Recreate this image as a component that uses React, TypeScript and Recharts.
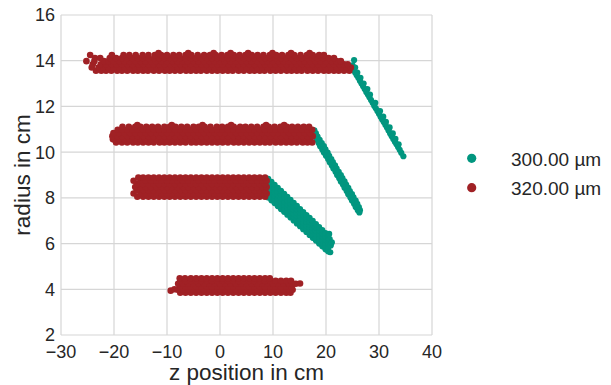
// App.tsx
import React from 'react';
import { ScatterChart, Scatter, XAxis, YAxis, CartesianGrid, Label } from 'recharts';

type Row = [number, number[]];
type Pt = [number, number];

const xTicks = [-30, -20, -10, 0, 10, 20, 30, 40];
const yTicks = [2, 4, 6, 8, 10, 12, 14, 16];
const seriesNames = ['300.00 µm', '320.00 µm'];
const seriesColors = ['#01967f', '#a02125'];

// 320 µm: rows of [radius, z positions]
const red14: Row[] = [
  [13.56, [-23.4, -22.4, -21.5, -20.5, -19.4, -18.5, -17.5, -16.4, -15.5, -14.5, -13.6, -12.5, -11.5, -10.4, -9.5, -8.5, -7.5, -6.4, -5.5, -4.5, -3.6, -2.5, -1.5, -0.5, 0.5, 1.5, 2.4, 3.5, 4.5, 5.6, 6.5, 7.5, 8.4, 9.5, 10.5, 11.5, 12.6, 13.5, 14.5, 15.4, 16.5, 17.5, 18.5, 19.6, 20.5, 21.5, 22.4, 23.4, 24.4]],
  [13.7, [-24.2, -22.9, -22.0, -21.0, -20.1, -19.0, -17.9, -17.0, -16.0, -15.1, -14.0, -13.0, -12.0, -11.1, -10.0, -9.0, -8.0, -7.1, -6.0, -5.0, -4.0, -3.1, -2.0, -1.0, 0.0, 1.0, 2.1, 3.0, 4.0, 5.0, 6.1, 7.0, 8.0, 9.0, 10.1, 11.0, 12.0, 13.0, 14.1, 15.0, 16.0, 17.0, 18.1, 19.0, 20.0, 21.0, 22.0, 23.0, 23.9, 24.7]],
  [13.84, [-24.0, -22.5, -21.5, -20.4, -19.5, -18.5, -17.5, -16.5, -15.4, -14.5, -13.5, -12.5, -11.5, -10.5, -9.4, -8.5, -7.5, -6.5, -5.5, -4.4, -3.5, -2.5, -1.5, -0.5, 0.5, 1.6, 2.5, 3.5, 4.5, 5.5, 6.5, 7.6, 8.5, 9.5, 10.5, 11.5, 12.5, 13.6, 14.5, 15.5, 16.5, 17.5, 18.5, 19.5, 20.6, 21.5, 22.5, 23.4, 24.1]],
  [13.98, [-25.2, -23.7, -21.9, -21.0, -20.0, -19.0, -18.0, -17.1, -16.0, -15.0, -14.0, -13.0, -12.1, -11.0, -10.0, -9.0, -8.0, -7.0, -6.1, -5.0, -4.0, -3.0, -2.0, -1.0, 0.0, 0.9, 2.0, 3.0, 4.0, 5.0, 6.0, 7.0, 8.1, 9.0, 10.0, 11.0, 12.0, 13.0, 14.0, 15.1, 16.0, 17.0, 18.0, 19.0, 20.0, 21.0, 22.0, 22.8]],
  [14.12, [-23.6, -22.6, -20.8, -19.6, -18.5, -17.5, -16.5, -15.5, -14.5, -13.5, -12.4, -11.5, -10.5, -9.5, -8.5, -7.5, -6.5, -5.5, -4.5, -3.5, -2.4, -1.5, -0.5, 0.5, 1.5, 2.5, 3.5, 4.5, 5.5, 6.4, 7.5, 8.5, 9.5, 10.5, 11.5, 12.5, 13.5, 14.5, 15.5, 16.5, 17.5, 18.4, 19.5, 20.5, 21.5]],
  [14.25, [-24.5, -20.4, -18.2, -17.1, -15.9, -14.6, -13.5, -12.3, -11.1, -10.0, -8.8, -7.7, -6.5, -5.4, -4.2, -3.0, -1.9, -0.8, 0.3, 1.4, 2.6, 3.7, 4.8, 6.0, 7.1, 8.2, 9.4, 10.6, 11.7, 12.9, 14.0, 15.2, 16.4, 17.5, 18.7, 19.6]],
  [14.34, [-11.6, -6.0, -1.2, 2.0, 5.3, 9.9, 13.4, 16.9]],
];

const red10: Row[] = [
  [10.42, [-19.6, -18.5, -17.5, -16.4, -15.5, -14.5, -13.5, -12.5, -11.4, -10.5, -9.5, -8.5, -7.5, -6.5, -5.4, -4.5, -3.5, -2.5, -1.5, -0.5, 0.5, 1.5, 2.6, 3.5, 4.5, 5.5, 6.5, 7.5, 8.5, 9.4, 10.5, 11.5, 12.5, 13.5, 14.5, 15.6, 16.5, 17.4]],
  [10.56, [-20.2, -19.0, -18.0, -17.0, -16.0, -15.0, -14.1, -13.0, -12.0, -11.0, -10.0, -9.0, -8.0, -7.0, -6.0, -5.0, -4.1, -3.0, -2.0, -1.0, 0.0, 1.0, 2.0, 3.0, 4.0, 5.0, 6.0, 7.1, 8.0, 9.0, 10.0, 11.0, 12.0, 13.0, 14.0, 15.0, 16.0, 17.0]],
  [10.7, [-20.3, -19.4, -18.5, -17.5, -16.5, -15.5, -14.5, -13.5, -12.5, -11.5, -10.5, -9.5, -8.5, -7.4, -6.5, -5.5, -4.5, -3.5, -2.5, -1.5, -0.5, 0.5, 1.5, 2.5, 3.5, 4.5, 5.5, 6.5, 7.5, 8.5, 9.5, 10.6, 11.5, 12.5, 13.5, 14.5, 15.5, 16.5, 17.5]],
  [10.84, [-20.1, -19.0, -18.0, -17.0, -16.0, -15.0, -14.0, -13.0, -12.0, -11.0, -10.0, -9.0, -8.0, -7.0, -6.0, -5.0, -4.0, -3.0, -2.0, -1.0, 0.0, 1.0, 2.0, 3.0, 4.0, 5.0, 6.0, 7.0, 8.0, 9.0, 10.0, 11.0, 12.0, 13.0, 14.0, 15.0, 16.0, 17.0]],
  [10.98, [-19.3, -18.5, -17.5, -16.5, -15.5, -14.5, -13.5, -12.5, -11.5, -10.5, -9.5, -8.5, -7.5, -6.5, -5.5, -4.5, -3.5, -2.5, -1.5, -0.5, 0.5, 1.5, 2.5, 3.5, 4.5, 5.5, 6.5, 7.5, 8.5, 9.5, 10.5, 11.5, 12.5, 13.5, 14.5, 15.5, 16.5, 17.4]],
  [11.11, [-18.4, -17.2, -16.0, -15.0, -13.9, -12.8, -11.7, -10.5, -9.5, -8.4, -7.3, -6.2, -5.0, -4.0, -2.9, -1.8, -0.6, 0.4, 1.5, 2.6, 3.8, 4.8, 5.9, 7.0, 8.2, 9.2, 10.3, 11.4, 12.6, 13.6, 14.7, 15.8, 16.8]],
  [11.19, [-15.6, -9.1, -3.3, 2.1, 8.7, 12.1]],
];

const red8: Row[] = [
  [8.05, [-15.6, -14.5, -13.5, -12.5, -11.5, -10.5, -9.5, -8.5, -7.5, -6.5, -5.5, -4.5, -3.5, -2.5, -1.5, -0.5, 0.5, 1.5, 2.5, 3.5, 4.5, 5.5, 6.5, 7.5, 8.5]],
  [8.19, [-16.3, -15.0, -14.0, -13.0, -12.0, -11.0, -10.0, -9.0, -8.0, -7.0, -6.0, -5.0, -4.0, -3.0, -2.0, -1.0, 0.0, 1.0, 2.0, 3.0, 4.0, 5.0, 6.0, 7.0, 8.0, 8.8]],
  [8.33, [-15.7, -14.5, -13.5, -12.5, -11.5, -10.5, -9.5, -8.5, -7.5, -6.5, -5.5, -4.5, -3.5, -2.5, -1.5, -0.5, 0.5, 1.5, 2.5, 3.5, 4.5, 5.5, 6.5, 7.5, 8.5]],
  [8.47, [-16.0, -15.0, -14.0, -13.0, -12.0, -11.0, -10.0, -9.0, -8.0, -7.0, -6.0, -5.0, -4.0, -3.0, -2.0, -1.0, 0.0, 1.0, 2.0, 3.0, 4.0, 5.0, 6.0, 7.0, 8.0, 8.8]],
  [8.61, [-15.6, -14.5, -13.5, -12.5, -11.5, -10.5, -9.5, -8.5, -7.5, -6.5, -5.5, -4.5, -3.5, -2.5, -1.5, -0.5, 0.5, 1.5, 2.5, 3.5, 4.5, 5.5, 6.5, 7.5, 8.5]],
  [8.75, [-16.3, -15.0, -14.0, -13.0, -12.0, -11.0, -10.0, -9.0, -8.0, -7.0, -6.0, -5.0, -4.0, -3.0, -2.0, -1.0, 0.0, 1.0, 2.0, 3.0, 4.0, 5.0, 6.0, 7.0, 8.0, 8.8]],
  [8.89, [-15.4, -14.5, -13.5, -12.5, -11.5, -10.5, -9.5, -8.5, -7.5, -6.5, -5.5, -4.5, -3.5, -2.5, -1.5, -0.5, 0.5, 1.5, 2.5, 3.5, 4.5, 5.5, 6.5, 7.5, 8.5]],
];

const red4: Row[] = [
  [3.85, [-7.5, -6.5, -5.5, -4.5, -3.5, -2.5, -1.5, -0.5, 0.5, 1.5, 2.5, 3.5, 4.5, 5.5, 6.5, 7.5, 8.5, 9.5, 10.5, 11.5, 12.5, 13.3]],
  [3.98, [-8.0, -7.0, -6.0, -5.0, -4.0, -3.0, -2.0, -1.0, 0.0, 1.0, 2.0, 3.0, 4.0, 5.0, 6.0, 7.0, 8.0, 9.0, 10.0, 11.0, 12.0, 13.0, 13.7]],
  [4.11, [-7.6, -6.5, -5.5, -4.5, -3.5, -2.5, -1.5, -0.5, 0.5, 1.5, 2.5, 3.5, 4.5, 5.5, 6.5, 7.5, 8.5, 9.5, 10.5, 11.5, 12.5, 13.5]],
  [4.24, [-7.9, -7.0, -6.0, -5.0, -4.0, -3.0, -2.0, -1.0, 0.0, 1.0, 2.0, 3.0, 4.0, 5.0, 6.0, 7.0, 8.0, 9.0, 10.0, 11.0, 12.0, 13.0, 13.7]],
  [4.37, [-7.5, -6.5, -5.5, -4.5, -3.5, -2.5, -1.5, -0.5, 0.5, 1.5, 2.5, 3.5, 4.5, 5.5, 6.5, 7.5, 8.5, 9.5, 10.5, 11.5, 12.5, 13.4]],
  [4.48, [-7.6, -6.6, -5.5, -4.5, -3.5, -2.5, -1.5, -0.5, 0.5, 1.5, 2.5, 3.5, 4.5, 5.5, 6.5, 7.5, 8.5, 9.4]],
];

const redStray: Pt[] = [[-9.3, 3.94], [-8.6, 4.0], [14.3, 4.24], [15.1, 4.25]];

// 300 µm: [z, radius] points along the tails
const teal14: Pt[] = [
  [25.3, 14.03], [25.0, 13.8], [25.1, 13.7], [25.5, 13.7], [25.3, 13.58], [25.5, 13.48], [25.9, 13.48],
  [25.8, 13.36], [26.1, 13.25], [26.5, 13.25], [26.4, 13.12], [26.7, 13.0], [27.1, 13.0], [27.0, 12.88],
  [27.3, 12.76], [27.8, 12.76], [27.6, 12.63], [27.9, 12.52], [28.3, 12.52], [28.2, 12.4], [28.5, 12.28],
  [28.8, 12.16], [29.3, 12.16], [29.1, 12.03], [29.4, 11.92], [29.7, 11.8], [30.2, 11.8], [30.0, 11.68],
  [30.3, 11.55], [30.8, 11.55], [30.6, 11.43], [30.9, 11.32], [31.3, 11.32], [31.2, 11.2], [31.5, 11.08],
  [32.0, 11.08], [31.8, 10.95], [32.1, 10.82], [32.6, 10.82], [32.4, 10.7], [32.7, 10.58], [33.1, 10.58],
  [33.0, 10.46], [33.3, 10.34], [33.7, 10.34], [33.6, 10.22], [33.9, 10.1], [34.2, 9.97], [34.6, 9.82],
];

const teal10: Pt[] = [
  [17.8, 10.95], [17.5, 10.82], [18.1, 10.82], [17.9, 10.68], [18.4, 10.68], [18.3, 10.54], [18.8, 10.54],
  [18.6, 10.4], [19.2, 10.4], [18.9, 10.26], [19.6, 10.26], [19.3, 10.12], [19.9, 10.12], [19.6, 9.98],
  [20.3, 9.98], [20.0, 9.84], [20.6, 9.84], [20.4, 9.7], [21.0, 9.7], [20.7, 9.56], [21.3, 9.56],
  [21.1, 9.42], [21.7, 9.42], [21.4, 9.28], [22.0, 9.28], [21.8, 9.14], [22.4, 9.14], [22.1, 9.0],
  [22.8, 9.0], [22.5, 8.86], [23.1, 8.86], [22.8, 8.72], [23.5, 8.72], [23.2, 8.58], [23.8, 8.58],
  [23.5, 8.44], [24.2, 8.44], [23.9, 8.3], [24.5, 8.3], [24.2, 8.16], [24.9, 8.16], [24.6, 8.02],
  [25.2, 8.02], [24.9, 7.88], [25.6, 7.88], [25.3, 7.74], [25.9, 7.74], [25.6, 7.6], [26.2, 7.6],
  [26.0, 7.46], [26.4, 7.46], [26.3, 7.36],
];

// columns of [z, radii]
const teal8: Row[] = [
  [9.1, [8.02, 8.18, 8.34, 8.5, 8.67, 8.83]],
  [9.7, [7.89, 8.05, 8.21, 8.37, 8.54, 8.7]],
  [10.3, [7.77, 7.93, 8.09, 8.25, 8.41, 8.57]],
  [10.9, [7.64, 7.8, 7.96, 8.12, 8.28, 8.44]],
  [11.5, [7.51, 7.67, 7.83, 7.99, 8.15, 8.31]],
  [12.1, [7.39, 7.55, 7.7, 7.86, 8.02, 8.17]],
  [12.7, [7.26, 7.42, 7.57, 7.73, 7.89, 8.04]],
  [13.3, [7.14, 7.29, 7.45, 7.6, 7.76, 7.91]],
  [13.9, [7.01, 7.16, 7.32, 7.47, 7.63, 7.78]],
  [14.5, [6.88, 7.03, 7.19, 7.34, 7.5, 7.65]],
  [15.1, [6.76, 6.91, 7.06, 7.21, 7.36, 7.51]],
  [15.7, [6.63, 6.78, 6.93, 7.08, 7.23, 7.38]],
  [16.3, [6.51, 6.66, 6.8, 6.95, 7.1, 7.25]],
  [16.9, [6.38, 6.53, 6.68, 6.82, 6.97, 7.12]],
  [17.5, [6.25, 6.4, 6.55, 6.69, 6.84, 6.99]],
  [18.1, [6.13, 6.27, 6.42, 6.56, 6.71, 6.85]],
  [18.7, [6.0, 6.14, 6.29, 6.43, 6.58, 6.72]],
  [19.3, [5.88, 6.02, 6.16, 6.31, 6.45, 6.59]],
  [19.9, [5.75, 5.89, 6.03, 6.17, 6.32, 6.46]],
  [20.4, [5.66, 5.82, 6.0, 6.18, 6.36]],
];

const teal8Tip: Pt[] = [[20.8, 5.62], [20.9, 5.92], [20.7, 6.2], [21.1, 6.05], [20.6, 6.42]];

const fromRows = (rows: Row[]) => rows.flatMap(([y, xs]) => xs.map((x) => ({ x, y })));
const fromCols = (cols: Row[]) => cols.flatMap(([x, ys]) => ys.map((y) => ({ x, y })));
const fromPts = (pts: Pt[]) => pts.map(([x, y]) => ({ x, y }));

const tealData = [...fromPts(teal14), ...fromPts(teal10), ...fromCols(teal8), ...fromPts(teal8Tip)];
const redData = [...fromRows(red14), ...fromRows(red10), ...fromRows(red8), ...fromRows(red4), ...fromPts(redStray)];

const font = "'Liberation Sans', Arial, sans-serif";
const ink = '#262626';
const gridColor = '#d6d6d6';

// dots wider than the row spacing so the dense clouds read as solid
const dot = (color: string, r: number) => (p: any) => <circle cx={p.cx} cy={p.cy} r={r} fill={color} />;

const fmt = (v: number) => (v < 0 ? '\u2212' + Math.abs(v) : String(v));

const App: React.FC = () => {
  return (
    <div style={{ position: 'absolute', left: 0, top: 0, width: 611, height: 385, background: '#fff' }}>
      <ScatterChart width={611} height={385} margin={{ top: 15, right: 179, bottom: 0, left: 0 }}>
        <CartesianGrid stroke={gridColor} strokeWidth={1.2} />
        <XAxis
          type="number"
          dataKey="x"
          domain={[-30, 40]}
          ticks={xTicks}
          interval={0}
          allowDataOverflow
          height={50}
          axisLine={false}
          tickLine={false}
          tickSize={6}
          tickMargin={4}
          tickFormatter={fmt}
          tick={{ fill: ink, fontSize: 18, fontFamily: font }}
        >
          <Label value="z position in cm" position="insideBottom" offset={5} fill={ink} fontSize={22.5} fontFamily={font} />
        </XAxis>
        <YAxis
          type="number"
          dataKey="y"
          domain={[2, 16]}
          ticks={yTicks}
          interval={0}
          allowDataOverflow
          width={61}
          axisLine={false}
          tickLine={false}
          tickSize={4}
          tickMargin={2}
          tick={{ fill: ink, fontSize: 18, fontFamily: font }}
        >
          <Label
            value="radius in cm"
            position="insideLeft"
            angle={-90}
            offset={22}
            fill={ink}
            fontSize={22.5}
            fontFamily={font}
            style={{ textAnchor: 'middle' }}
          />
        </YAxis>
        <Scatter name={seriesNames[0]} data={tealData} fill={seriesColors[0]} shape={dot(seriesColors[0], 3.1)} isAnimationActive={false} />
        <Scatter name={seriesNames[1]} data={redData} fill={seriesColors[1]} shape={dot(seriesColors[1], 3.3)} isAnimationActive={false} />
      </ScatterChart>
      <svg width={156} height={385} style={{ position: 'absolute', left: 455, top: 0 }}>
        {seriesNames.map((name, i) => (
          <g key={name}>
            <circle cx={16.7} cy={158.3 + i * 29.4} r={4.6} fill={seriesColors[i]} />
            <text x={56} y={166 + i * 29.4} fill={ink} fontSize={19} fontFamily={font}>
              {name}
            </text>
          </g>
        ))}
      </svg>
    </div>
  );
};

export default App;
